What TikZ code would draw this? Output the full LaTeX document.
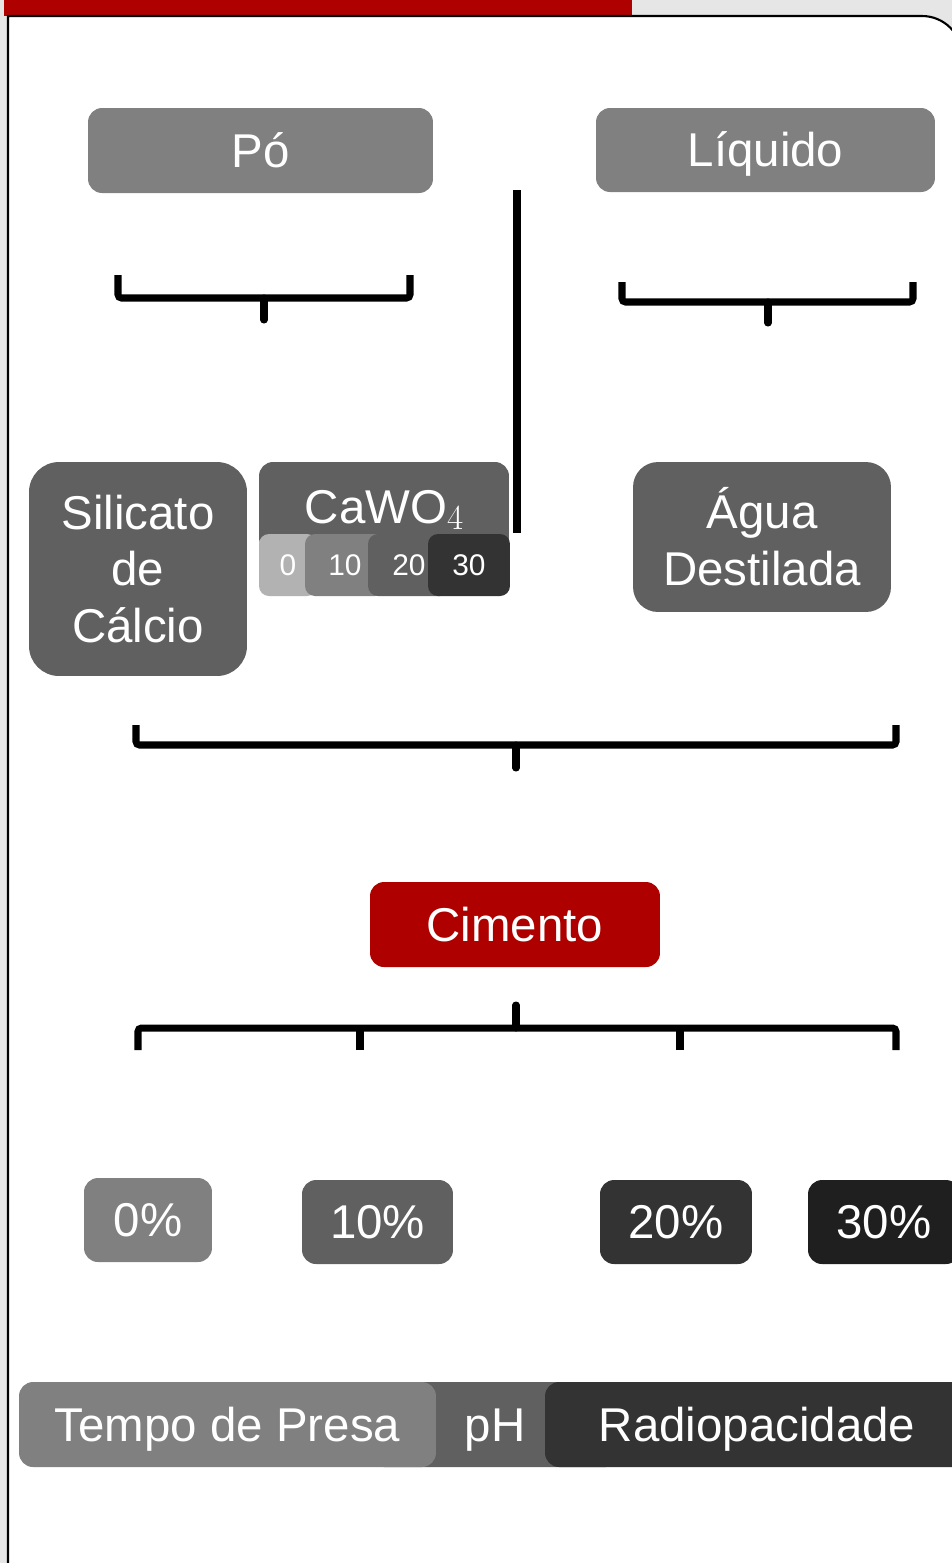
\documentclass[tikz,border=0pt]{standalone}
\usepackage{fontspec}
\setmainfont{Liberation Sans}
\usetikzlibrary{calc}

\definecolor{cimred}{RGB}{175,0,0}
\definecolor{panelgray}{RGB}{230,230,230}
\definecolor{grayA}{RGB}{178,178,178}
\definecolor{grayB}{RGB}{128,128,128}
\definecolor{grayC}{RGB}{96,96,96}
\definecolor{grayD}{RGB}{51,51,51}
\definecolor{grayE}{RGB}{31,31,31}

\tikzset{
  tile/.style={rounded corners=0.28cm, text=white, inner sep=0pt,
    font=\fontsize{27}{32.3}\selectfont, text height=19.3pt, text depth=0pt},
  bigtile/.style={rounded corners=0.28cm, text=white, inner sep=0pt, align=center,
    font=\fontsize{27}{32.3}\selectfont},
  tag/.style={rounded corners=0.2cm, text=white, inner sep=0pt,
    font=\fontsize{17}{20}\selectfont, minimum height=1.24cm,
    text height=12.2pt, text depth=0pt},
  brace/.style={line width=4pt, rounded corners=2pt},
}

\begin{document}
\begin{tikzpicture}[x=0.02cm, y=-0.02cm]
  \clip (0,0) rectangle (952,1563);
  \fill[panelgray] (0,0) rectangle (952,1563);
  \fill[cimred] (4,0) rectangle (632,16);
  \draw[line width=1.2pt, fill=white] (8,1600) -- (8,16) -- (900,16)
    [rounded corners=0.8cm] -- (962,16) -- (962,1600);

  % top row
  \node[tile, fill=grayB, minimum width=6.9cm, minimum height=1.7cm] (po) at (260.5,150.5) {Pó};
  \node[tile, fill=grayB, minimum width=6.78cm, minimum height=1.68cm] (liquido) at (765.5,150) {Líquido};
  \draw[line width=4pt] (517,190) -- (517,533);

  % braces under the two groups
  \draw[brace] (118,275) -- (118,298) -- (410,298) -- (410,275);
  \draw[brace, line cap=round] (264,298) -- (264,320);
  \draw[brace] (622,282) -- (622,302) -- (913,302) -- (913,282);
  \draw[brace, line cap=round] (768,302) -- (768,323);

  % components
  \node[bigtile, fill=grayC, rounded corners=0.6cm, minimum width=4.36cm, minimum height=4.28cm]
    (silicato) at (138,569) {Silicato\\de\\Cálcio};
  \node[tile, fill=grayC, minimum width=5cm, minimum height=1.8cm] (cawo) at (384,507)
    {CaWO\raisebox{-3pt}{\fontfamily{lmr}\fontsize{20}{22}\selectfont 4}};
  \node[tag, fill=grayA, minimum width=1.16cm] (c0) at (288,565) {0};
  \node[tag, fill=grayB, minimum width=1.6cm] (c10) at (345,565) {10};
  \node[tag, fill=grayC, minimum width=1.64cm] (c20) at (409,565) {20};
  \node[tag, fill=grayD, minimum width=1.64cm] (c30) at (469,565) {30};
  \node[bigtile, fill=grayC, rounded corners=0.5cm, minimum width=5.16cm, minimum height=3cm]
    (agua) at (762,537) {Água\\Destilada};

  \draw[brace] (136,725) -- (136,745) -- (896,745) -- (896,725);
  \draw[brace, line cap=round] (516,745) -- (516,768);

  % cement
  \node[tile, fill=cimred, minimum width=5.8cm, minimum height=1.7cm] (cimento) at (515,924.5) {Cimento};

  \draw[brace, line cap=round] (516,1005) -- (516,1028);
  \draw[brace] (138,1050) -- (138,1028) -- (896,1028) -- (896,1050);
  \draw[brace] (360,1028) -- (360,1050);
  \draw[brace] (680,1028) -- (680,1050);

  % proportions
  \node[tile, fill=grayB, minimum width=2.56cm, minimum height=1.68cm] (p0) at (148,1220) {0\%};
  \node[tile, fill=grayC, minimum width=3.02cm, minimum height=1.68cm] (p10) at (377.5,1222) {10\%};
  \node[tile, fill=grayD, minimum width=3.04cm, minimum height=1.68cm] (p20) at (676,1222) {20\%};
  \node[tile, fill=grayE, minimum width=3.04cm, minimum height=1.68cm] (p30) at (884,1222) {30\%};

  % tests
  \node[tile, fill=grayC, minimum width=5cm, minimum height=1.7cm] (ph) at (495,1424.5) {pH};
  \node[tile, fill=grayB, minimum width=8.34cm, minimum height=1.7cm] (presa) at (227.5,1424.5) {Tempo de Presa};
  \node[tile, fill=grayD, minimum width=8.48cm, minimum height=1.7cm] (radio) at (757,1424.5) {Radiopacidade};
\end{tikzpicture}
\end{document}
